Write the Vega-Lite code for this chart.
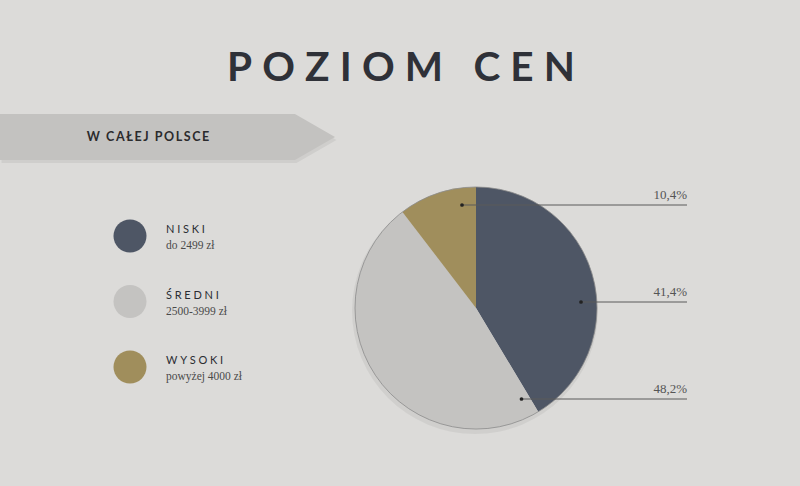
{
  "$schema": "https://vega.github.io/schema/vega-lite/v6.json",
  "width": 800,
  "height": 486,
  "padding": 0,
  "autosize": {"type": "none"},
  "background": "#dcdbd9",
  "config": {"view": {"stroke": null}, "font": "Lato"},
  "title": {
    "text": "P\u2005O\u2005Z\u2005I\u2005O\u2005M\u2005\u2005\u2005C\u2005E\u2005N",
    "anchor": "middle",
    "frame": "group",
    "offset": -83,
    "dy": 38,
    "dx": 1,
    "baseline": "alphabetic",
    "font": "Lato",
    "fontSize": 40.5,
    "fontWeight": "bold",
    "color": "#2f3138"
  },
  "datasets": {
    "slices": [
      {"level": 1, "cat": "NISKI", "range": "do 2499 zł", "pct": 41.4, "label": "41,4%"},
      {"level": 2, "cat": "ŚREDNI", "range": "2500-3999 zł", "pct": 48.2, "label": "48,2%"},
      {"level": 3, "cat": "WYSOKI", "range": "powyżej 4000 zł", "pct": 10.4, "label": "10,4%"}
    ],
    "banner": [{"heading": "W CAŁEJ POLSCE"}]
  },
  "resolve": {"scale": {"y": "independent", "x": "independent"}},
  "layer": [
    {
      "data": {"name": "banner"},
      "layer": [
        {
          "mark": {"type": "point", "shape": "M-1,-0.137L0.761,-0.137L1,0L0.761,0.137L-1,0.137Z", "size": 112225, "x": 169, "y": 140, "filled": true, "color": "#000", "opacity": 0.06, "strokeWidth": 0},
          "encoding": {}
        },
        {
          "mark": {"type": "point", "shape": "M-1,-0.137L0.761,-0.137L1,0L0.761,0.137L-1,0.137Z", "size": 112225, "x": 167.5, "y": 137, "filled": true, "color": "#c3c2c0", "opacity": 1, "strokeWidth": 0},
          "encoding": {}
        },
        {
          "mark": {"type": "text", "x": 148, "y": 137, "align": "center", "baseline": "middle", "fontSize": 12.5, "fontWeight": "bold", "color": "#2b2b2d", "text": {"expr": "join(split(datum.heading, ''), '\u2009')"}},
          "encoding": {}
        },
        {
          "mark": {"type": "point", "shape": "circle", "size": 60516, "x": 475, "y": 311, "filled": true, "color": "#000", "opacity": 0.05, "strokeWidth": 0},
          "encoding": {}
        }
      ]
    },
    {
      "data": {"name": "slices"},
      "mark": {"type": "arc", "x": 476, "y": 308, "outerRadius": 121},
      "encoding": {
        "theta": {"field": "pct", "type": "quantitative", "stack": true},
        "order": {"field": "level", "type": "quantitative"},
        "color": {
          "field": "cat",
          "type": "nominal",
          "scale": {"domain": ["NISKI", "ŚREDNI", "WYSOKI"], "range": ["#4e5665", "#c4c3c1", "#a08e5c"]},
          "legend": null
        }
      }
    },
    {
      "data": {"name": "banner"},
      "mark": {"type": "point", "shape": "circle", "size": 58564, "x": 476, "y": 308, "filled": false, "stroke": "#8c8c8c", "strokeWidth": 0.8, "opacity": 1},
      "encoding": {}
    },
    {
      "data": {"name": "slices"},
      "encoding": {
        "y": {
          "field": "cat",
          "type": "nominal",
          "scale": {"type": "point", "domain": ["NISKI", "ŚREDNI", "WYSOKI"], "range": [236, 367], "padding": 0},
          "axis": null
        }
      },
      "layer": [
        {
          "mark": {"type": "point", "shape": "circle", "filled": true, "size": 1089, "x": 130, "opacity": 1, "strokeWidth": 0},
          "encoding": {
            "color": {
              "field": "cat",
              "type": "nominal",
              "scale": {"domain": ["NISKI", "ŚREDNI", "WYSOKI"], "range": ["#4e5665", "#c4c3c1", "#a08e5c"]},
              "legend": null
            }
          }
        },
        {
          "mark": {"type": "text", "x": 166, "dy": -3, "align": "left", "baseline": "alphabetic", "fontSize": 11, "color": "#2b2d33", "text": {"expr": "join(split(datum.cat, ''), '\u2005')"}},
          "encoding": {}
        },
        {
          "mark": {"type": "text", "x": 166, "dy": 13, "align": "left", "baseline": "alphabetic", "font": "Liberation Serif", "fontSize": 11.5, "color": "#4a4a4a"},
          "encoding": {"text": {"field": "range", "type": "nominal"}}
        }
      ]
    },
    {
      "data": {"name": "slices"},
      "encoding": {
        "y": {
          "field": "cat",
          "type": "nominal",
          "scale": {"type": "point", "domain": ["WYSOKI", "NISKI", "ŚREDNI"], "range": [205, 399], "padding": 0},
          "axis": null
        }
      },
      "layer": [
        {
          "mark": {"type": "rule", "color": "#5a5a5a", "strokeWidth": 1},
          "encoding": {
            "x": {
              "field": "cat",
              "type": "nominal",
              "scale": {"type": "point", "domain": ["WYSOKI", "ŚREDNI", "NISKI"], "range": [462, 581], "padding": 0},
              "axis": null
            },
            "x2": {"value": 687}
          }
        },
        {
          "mark": {"type": "point", "shape": "circle", "filled": true, "size": 14, "color": "#222", "opacity": 1, "strokeWidth": 0},
          "encoding": {
            "x": {
              "field": "cat",
              "type": "nominal",
              "scale": {"type": "point", "domain": ["WYSOKI", "ŚREDNI", "NISKI"], "range": [462, 581], "padding": 0},
              "axis": null
            }
          }
        },
        {
          "mark": {"type": "text", "x": 687, "dy": -6, "align": "right", "baseline": "alphabetic", "font": "Liberation Serif", "fontSize": 13, "color": "#555"},
          "encoding": {"text": {"field": "label", "type": "nominal"}}
        }
      ]
    }
  ]
}
